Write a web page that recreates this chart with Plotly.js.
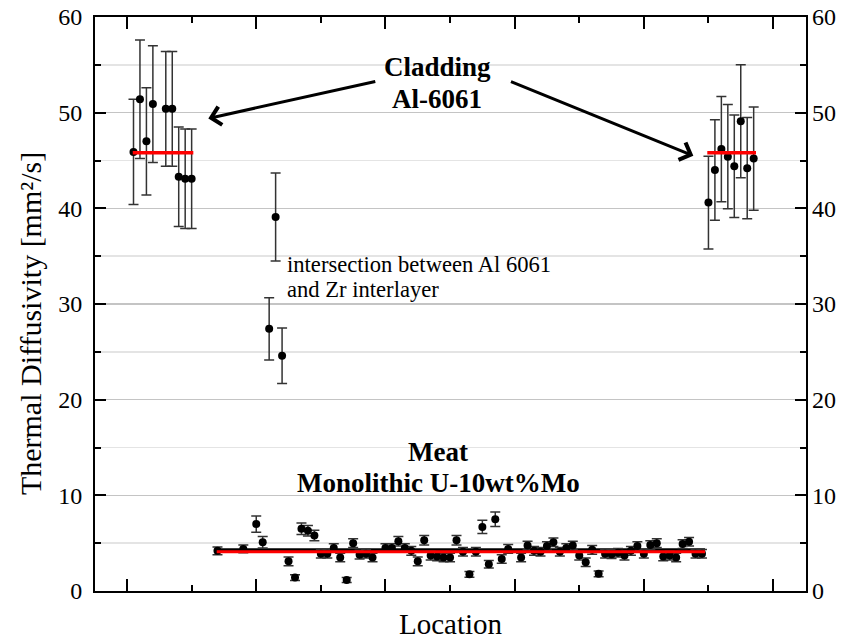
<!DOCTYPE html>
<html>
<head>
<meta charset="utf-8">
<script src="https://cdn.plot.ly/plotly-3.0.1.min.js"></script>
<style>
html,body{margin:0;padding:0;background:#fff;}
#chart{width:850px;height:641px;}
</style>
</head>
<body>
<div id="chart"></div>
<script>
// Cladding (Al-6061), left side
var cladLeftX   = [0.5, 1.0, 1.5, 2.0, 3.0, 3.5, 4.0, 4.5, 5.0];
var cladLeftY   = [45.9, 51.4, 47.0, 50.9, 50.4, 50.4, 43.3, 43.1, 43.1];
var cladLeftErr = [5.5, 6.2, 5.6, 6.1, 6.0, 6.0, 5.2, 5.2, 5.2];

// Cladding (Al-6061), right side
var cladRightX   = [45.0, 45.5, 46.0, 46.5, 47.0, 47.5, 48.0, 48.5];
var cladRightY   = [40.6, 44.0, 46.2, 45.4, 44.4, 49.1, 44.2, 45.2];
var cladRightErr = [4.85, 5.25, 5.5, 5.45, 5.35, 5.9, 5.3, 5.4];

// Intersection between Al 6061 and Zr interlayer
var interX   = [11.0, 11.5, 12.0];
var interY   = [27.4, 39.1, 24.6];
var interErr = [3.25, 4.6, 2.9];

// Meat (monolithic U-10wt%Mo)
var meatX = [7.0, 9.0, 10.0, 10.5, 12.5, 13.0, 13.5, 14.0, 14.5, 15.0,
             15.5, 16.0, 16.5, 17.0, 17.5, 18.0, 18.5, 19.0, 20.0, 20.5,
             21.0, 21.5, 22.0, 22.5, 23.0, 23.5, 24.0, 24.5, 25.0, 25.5,
             26.0, 26.5, 27.0, 27.5, 28.0, 28.5, 29.0, 29.5, 30.5, 31.0,
             31.5, 32.0, 32.5, 33.0, 33.5, 34.0, 34.5, 35.0, 35.5, 36.0,
             36.5, 37.0, 37.5, 38.0, 38.5, 39.0, 39.5, 40.0, 40.5, 41.0,
             41.5, 42.0, 42.5, 43.0, 43.5, 44.0, 44.5];
var meatY = [4.2, 4.4, 7.0, 5.1, 3.1, 1.4, 6.5, 6.3, 5.8, 3.9,
             3.9, 4.5, 3.5, 1.15, 5.0, 3.8, 3.9, 3.5, 4.5, 4.5,
             5.2, 4.5, 4.2, 3.1, 5.3, 3.7, 3.6, 3.5, 3.5, 5.3,
             4.1, 1.75, 4.1, 6.7, 2.8, 7.5, 3.35, 4.4, 3.5, 4.75,
             4.2, 4.1, 4.7, 5.1, 4.1, 4.5, 4.75, 3.7, 3.0, 4.3,
             1.8, 3.9, 3.85, 4.0, 3.7, 4.2, 4.7, 3.9, 4.8, 5.0,
             3.6, 3.7, 3.5, 4.9, 5.15, 3.9, 3.9];
var meatErr = [0.4, 0.4, 0.85, 0.6, 0.45, 0.3, 0.6, 0.55, 0.55, 0.45,
               0.45, 0.45, 0.45, 0.25, 0.45, 0.45, 0.45, 0.45, 0.45, 0.45,
               0.5, 0.45, 0.45, 0.45, 0.5, 0.45, 0.45, 0.45, 0.45, 0.5,
               0.45, 0.3, 0.45, 0.7, 0.4, 0.75, 0.45, 0.45, 0.45, 0.45,
               0.45, 0.45, 0.45, 0.45, 0.45, 0.45, 0.45, 0.45, 0.45, 0.45,
               0.3, 0.45, 0.45, 0.45, 0.45, 0.45, 0.45, 0.45, 0.45, 0.45,
               0.45, 0.45, 0.45, 0.45, 0.45, 0.45, 0.45];

// Average lines
var cladLeftAvgX  = [0.44, 5.13];
var cladLeftAvgY  = [45.8, 45.8];
var cladRightAvgX = [44.91, 48.68];
var cladRightAvgY = [45.8, 45.8];
var meatAvgX = [6.94, 44.74];
var meatAvgY = [4.1, 4.1];
var meatBlackY = [4.25, 4.25];

// Axis ticks
var yTickVals = [0, 10, 20, 30, 40, 50, 60];

var FONT = 'Liberation Serif, Times New Roman, serif';
var errStyle = function(arr){ return {type:'data', array:arr, visible:true, color:'#333333', thickness:1.5, width:5}; };
var mk = {color:'#000', size:8};

var traces = [
  {x:meatAvgX, y:meatBlackY, mode:'lines', line:{color:'#000', width:4}, hoverinfo:'skip', showlegend:false},
  {x:cladLeftX, y:cladLeftY, error_y:errStyle(cladLeftErr), mode:'markers', marker:mk, showlegend:false},
  {x:cladRightX, y:cladRightY, error_y:errStyle(cladRightErr), mode:'markers', marker:mk, showlegend:false},
  {x:interX, y:interY, error_y:errStyle(interErr), mode:'markers', marker:mk, showlegend:false},
  {x:meatX, y:meatY, error_y:errStyle(meatErr), mode:'markers', marker:mk, showlegend:false},
  {x:cladLeftAvgX, y:cladLeftAvgY, mode:'lines', line:{color:'#ff0000', width:3.5}, showlegend:false},
  {x:cladRightAvgX, y:cladRightAvgY, mode:'lines', line:{color:'#ff0000', width:3.5}, showlegend:false},
  {x:meatAvgX, y:meatAvgY, mode:'lines', line:{color:'#ff0000', width:3}, showlegend:false},
  {x:[0], y:[0], yaxis:'y2', mode:'markers', marker:{opacity:0}, hoverinfo:'skip', showlegend:false}
];

var layout = {
  width:850, height:641,
  margin:{l:95, r:44, t:17, b:50, pad:0},
  paper_bgcolor:'#fff', plot_bgcolor:'#fff',
  font:{family:FONT, size:24, color:'#000'},
  showlegend:false,
  xaxis:{
    range:[-2.48, 52.55], showticklabels:false,
    tickmode:'linear', tick0:0, dtick:10,
    ticks:'inside', ticklen:12, tickwidth:2, tickcolor:'#000',
    minor:{dtick:5, tick0:0, ticks:'inside', ticklen:6, tickwidth:2, tickcolor:'#000', showgrid:false},
    showgrid:false, zeroline:false,
    showline:true, linecolor:'#000', linewidth:2, mirror:'ticks'
  },
  yaxis:{
    range:[0, 60], tickmode:'array', tickvals:yTickVals,
    ticks:'inside', ticklen:11, tickwidth:2, tickcolor:'#000',
    minor:{dtick:5, tick0:0, ticks:'inside', ticklen:6, tickwidth:2, tickcolor:'#000', showgrid:true, gridcolor:'#e4e4e4', gridwidth:1.5},
    showgrid:true, gridcolor:'#c4c4c4', gridwidth:1.5,
    zeroline:false, showline:true, linecolor:'#000', linewidth:2, mirror:'ticks',
    ticklabelstandoff:6,
    tickfont:{family:FONT, size:24, color:'#000'}
  },
  yaxis2:{
    range:[0, 60], overlaying:'y', side:'right', tickmode:'array', tickvals:yTickVals,
    ticks:'', showgrid:false, zeroline:false, showline:false,
    ticklabelstandoff:5,
    tickfont:{family:FONT, size:24, color:'#000'}
  },
  annotations:[
    {xref:'paper', yref:'paper', x:-0.0914, y:0.465, text:'Thermal Diffusivity [mm²/s]', showarrow:false, textangle:-90,
     xanchor:'center', yanchor:'middle', font:{family:FONT, size:30, color:'#000'}},
    {xref:'paper', yref:'paper', x:0.5, y:-0.0575, text:'Location', showarrow:false,
     xanchor:'center', yanchor:'middle', font:{family:FONT, size:29, color:'#000'}},
    {x:24.0, y:54.8, text:'<b>Cladding</b>', showarrow:false, xanchor:'center', yanchor:'middle', font:{family:FONT, size:27, color:'#000'}},
    {x:24.0, y:51.45, text:'<b>Al-6061</b>', showarrow:false, xanchor:'center', yanchor:'middle', font:{family:FONT, size:27, color:'#000'}},
    {x:24.1, y:14.48, text:'<b>Meat</b>', showarrow:false, xanchor:'center', yanchor:'middle', font:{family:FONT, size:27, color:'#000'}},
    {x:24.1, y:11.24, text:'<b>Monolithic U-10wt%Mo</b>', showarrow:false, xanchor:'center', yanchor:'middle', font:{family:FONT, size:27, color:'#000'}},
    {x:12.22, y:34.1, text:'intersection between Al 6061', showarrow:false, xanchor:'left', yanchor:'middle', font:{family:FONT, size:22.6, color:'#000'}},
    {x:12.22, y:31.5, text:'and Zr interlayer', showarrow:false, xanchor:'left', yanchor:'middle', font:{family:FONT, size:22.6, color:'#000'}},
    {x:6.29, y:49.4, ax:19.33, ay:53.3, axref:'x', ayref:'y', text:'', showarrow:true, arrowhead:4, arrowsize:1.2, arrowwidth:3, arrowcolor:'#000'},
    {x:43.83, y:45.5, ax:29.6, ay:53.3, axref:'x', ayref:'y', text:'', showarrow:true, arrowhead:4, arrowsize:1.2, arrowwidth:3, arrowcolor:'#000'}
  ]
};

Plotly.newPlot('chart', traces, layout, {staticPlot:true, displayModeBar:false});
</script>
</body>
</html>
